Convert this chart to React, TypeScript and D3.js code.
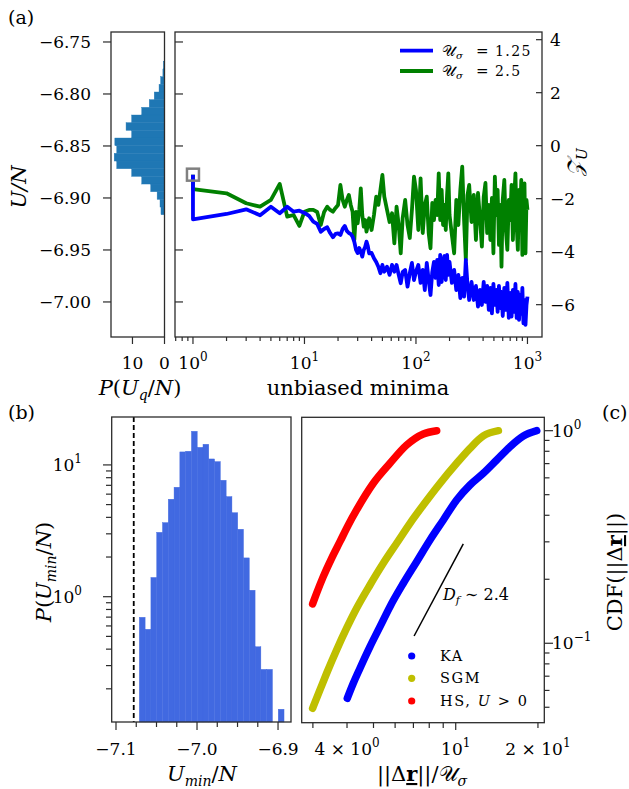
import React from "react";
import * as d3 from "d3";

const FONT = "'DejaVu Serif', 'Liberation Serif', serif";

// ---------- Panel (a): quench histogram P(U_q/N) ----------
const quenchBinTop = -6.7686;
const quenchBinWidth = 0.007375;
const quenchDensity = [0.35, 0.5, 1.2, 1.7, 3.2, 4.75, 7.1, 10.25, 12.0, 10.25, 15.5, 14.9, 15.7, 14.9, 10.25, 7.1, 4.3, 2.3, 1.4, 1.1];

const uTicks = [-6.75, -6.8, -6.85, -6.9, -6.95, -7.0];
const uTickLabels = ["−6.75", "−6.80", "−6.85", "−6.90", "−6.95", "−7.00"];
const histTicks = [10, 0];
const zTicks = [4, 2, 0, -2, -4, -6];
const zTickLabels = ["4", "2", "0", "−2", "−4", "−6"];
const minimaTicks = [1, 10, 100, 1000];
const minimaTickExp = ["0", "1", "2", "3"];
const legendA = ["1.25", "2.5"];

// ---------- Panel (a): running energy vs unbiased minima ----------
const startPoint: [number, number] = [1, -6.8776];
const runSigma125: [number, number][] = [
  [1, -6.8776], [1, -6.9205], [2, -6.9154], [3, -6.9109], [4, -6.9166], [5, -6.9084], [6, -6.9147], [7, -6.9084], [8, -6.9132], [9, -6.9122],
  [10, -6.9144], [11, -6.9173], [12, -6.9228], [13, -6.925], [14, -6.9324], [15, -6.9298], [16, -6.9282], [17, -6.9337], [18, -6.9378], [19, -6.9346],
  [20, -6.934], [21, -6.9356], [22, -6.9298], [23, -6.9269], [24, -6.9317], [25, -6.9337], [26, -6.9346], [27, -6.9372], [28, -6.9423], [29, -6.95],
  [30, -6.9529], [31, -6.9481], [32, -6.9519], [33, -6.9564], [34, -6.95], [35, -6.9471], [36, -6.942], [37, -6.9462], [38, -6.9532], [40, -6.9529],
  [42, -6.958], [44, -6.9615], [46, -6.9661], [48, -6.9724], [50, -6.9644], [52, -6.9709], [55, -6.9661], [58, -6.974], [61, -6.9644], [64, -6.9709],
  [67, -6.9644], [70, -6.974], [73, -6.982], [76, -6.9712], [80, -6.9692], [84, -6.9853], [88, -6.9724], [92, -6.9625], [96, -6.9789], [100, -6.9709],
  [105, -6.9644], [110, -6.9817], [115, -6.9692], [120, -6.9885], [125, -6.9625], [130, -6.9789], [135, -6.9933], [140, -6.9712], [145, -6.9615], [150, -6.9769],
  [155, -6.9596], [160, -6.9837], [165, -6.9548], [170, -6.9808], [175, -6.9615], [180, -6.9558], [185, -6.9789], [190, -6.9548], [195, -6.974], [200, -6.9615],
  [210, -6.9817], [220, -6.9692], [230, -6.9885], [240, -6.974], [250, -6.9962], [260, -6.9769], [270, -6.9949], [280, -6.9596], [290, -6.9837], [300, -6.9981],
  [315, -6.9808], [330, -6.9981], [345, -6.9846], [360, -7.0045], [375, -6.9885], [390, -7.0029], [405, -6.9808], [420, -7.0], [435, -6.9846], [450, -7.0077],
  [465, -6.9865], [480, -7.0109], [495, -6.9827], [510, -7.0029], [525, -6.9885], [540, -7.0096], [555, -6.9846], [570, -7.0058], [585, -6.9904], [600, -7.0135],
  [620, -6.9865], [640, -7.0077], [660, -6.9817], [680, -7.0154], [700, -6.9913], [720, -7.0141], [740, -6.9885], [760, -7.0096], [780, -6.9827], [800, -7.0154],
  [820, -6.9904], [840, -7.0173], [860, -6.9933], [880, -7.0115], [900, -6.9865], [920, -7.0205], [940, -6.9981], [960, -7.0221], [980, -7.0029], [1000, -6.9949],
];
const runSigma25: [number, number][] = [
  [1, -6.8776], [1, -6.8916], [2, -6.8955], [3, -6.9051], [4, -6.9084], [5, -6.9019], [6, -6.8865], [7, -6.918], [8, -6.9164], [9, -6.9269],
  [10, -6.9132], [11, -6.9115], [12, -6.9115], [13, -6.9135], [14, -6.926], [15, -6.9135], [16, -6.9084], [17, -6.9115], [18, -6.9132], [19, -6.9096],
  [20, -6.9067], [21, -6.8875], [22, -6.9019], [23, -6.9084], [24, -6.9019], [25, -6.8971], [26, -6.9067], [27, -6.9132], [28, -6.9404], [29, -6.9135],
  [30, -6.9243], [31, -6.9115], [32, -6.8907], [33, -6.9164], [34, -6.9276], [35, -6.9212], [36, -6.9324], [37, -6.926], [38, -6.9195], [40, -6.9308],
  [42, -6.9164], [44, -6.8988], [46, -6.9067], [48, -6.8923], [50, -6.8779], [52, -6.8988], [55, -6.9115], [58, -6.9231], [61, -6.9147], [64, -6.9436],
  [67, -6.9084], [70, -6.926], [73, -6.9532], [76, -6.9192], [80, -6.9019], [84, -6.926], [88, -6.9385], [92, -6.9115], [96, -6.8795], [100, -6.8923],
  [105, -6.9308], [110, -6.8811], [115, -6.9337], [120, -6.9067], [125, -6.8988], [130, -6.9337], [135, -6.9484], [140, -6.9048], [145, -6.9212], [150, -6.9019],
  [155, -6.9164], [160, -6.8763], [165, -6.9212], [170, -6.8923], [175, -6.926], [180, -6.9067], [185, -6.9308], [190, -6.8971], [195, -6.8763], [200, -6.9164],
  [210, -6.9356], [220, -6.9532], [230, -6.9019], [240, -6.926], [250, -6.8923], [260, -6.8699], [270, -6.9212], [280, -6.9596], [290, -6.8971], [300, -6.8875],
  [315, -6.9231], [330, -6.8971], [345, -6.9404], [360, -6.8952], [375, -6.9192], [390, -6.9468], [405, -6.899], [420, -6.8856], [435, -6.9337], [450, -6.9067],
  [465, -6.9404], [480, -6.9], [495, -6.9532], [510, -6.8795], [525, -6.9164], [540, -6.8923], [555, -6.9452], [570, -6.9067], [585, -6.9661], [600, -6.9019],
  [620, -6.8827], [640, -6.9308], [660, -6.95], [680, -6.9019], [700, -6.9212], [720, -6.8875], [740, -6.9404], [760, -6.9019], [780, -6.8763], [800, -6.926],
  [820, -6.95], [840, -6.8923], [860, -6.9164], [880, -6.8827], [900, -6.9548], [920, -6.8971], [940, -6.8859], [960, -6.9532], [980, -6.9019], [1000, -6.9115],
];

// ---------- Panel (b): P(U_min/N) ----------
const minBinStart = -7.0712;
const minBinWidth = 0.007144;
const minDensity = [0.698, 0.566, 1.4, 3.08, 3.65, 5.49, 6.77, 12.55, 12.7, 18.0, 13.6, 14.35, 11.1, 10.6, 7.65, 5.75, 4.34, 3.25, 1.97, 1.12, 0.417, 0.281, 0.281, 0, 0.14];
const groundStateU = -7.0781;
const bTicks = [-7.1, -7.0, -6.9];
const bTickLabels = ["−7.1", "−7.0", "−6.9"];

// ---------- Panel (c): CDF(||Δr||) ----------
const kaX = [4.009, 4.217, 4.462, 4.855, 5.282, 5.745, 6.43, 7.194, 8.051, 9.01, 10.08, 11.28, 12.62, 14.13, 15.81, 17.69, 19.8];
const kaY = [0.0551, 0.0648, 0.0763, 0.0964, 0.1197, 0.1487, 0.1915, 0.2419, 0.3061, 0.3802, 0.4721, 0.5553, 0.6302, 0.7281, 0.8409, 0.9443, 1.0];
const sgmX = [2.993, 3.184, 3.369, 3.664, 3.987, 4.337, 4.855, 5.43, 6.078, 6.801, 7.61, 8.759, 10.08, 11.28, 12.62, 14.33];
const sgmY = [0.04945, 0.06031, 0.07227, 0.093, 0.1177, 0.1461, 0.188, 0.2378, 0.2954, 0.3668, 0.4472, 0.5656, 0.7024, 0.826, 0.9443, 1.0];
const hsX = [2.993, 3.095, 3.274, 3.513, 3.769, 4.044, 4.337, 4.993, 5.745, 6.613, 7.61, 8.517];
const hsY = [0.1531, 0.1718, 0.2058, 0.2511, 0.3005, 0.3601, 0.4236, 0.5656, 0.7024, 0.8563, 0.965, 1.0];
const slopeX = [7.04, 10.66];
const slopeY = [0.1082, 0.2937];

const superTicks = (k: number) => [2, 3, 4, 5, 6, 7, 8, 9].map((m) => m * Math.pow(10, k));

function Pow10({ x, y, exp, anchor = "middle", prefix = "" }: any) {
  return (
    <text x={x} y={y} textAnchor={anchor} fontFamily={FONT} fontSize={17} fill="#000">
      {prefix}10<tspan dy={-8} fontSize={12}>{exp}</tspan>
    </text>
  );
}

export default function App() {
  // ----- scales -----
  const yU = d3.scaleLinear().domain([-6.7404, -7.0337]).range([32, 337]);
  const xHist = d3.scaleLinear().domain([16.7, 0]).range([111, 164.5]);
  const xMin = d3.scaleLog().domain([0.69, 1350]).range([175, 542]);
  const yZ = d3.scaleLinear().domain([4.29, -7.22]).range([32, 337]);

  const xB = d3.scaleLinear().domain([-7.1053, -6.884]).range([111.7, 291]);
  const yB = d3.scaleLog().domain([23.1, 0.112]).range([417, 722]);

  const xC = d3.scaleLog().domain([2.73, 21.1]).range([301.7, 544.3]);
  const yC = d3.scaleLog().domain([1.156, 0.0423]).range([417.3, 722.7]);

  const runLine = d3.line<[number, number]>().x((d) => xMin(d[0])).y((d) => yU(d[1]));

  const cdfLine = d3.line<[number, number]>().x((d) => xC(d[0])).y((d) => yC(d[1])).curve(d3.curveMonotoneX);
  const zipXY = (xs: number[], ys: number[]) => xs.map((v, i) => [v, ys[i]] as [number, number]);

  const frame = { fill: "none", stroke: "#2b2b2b", strokeWidth: 1.3 };
  const tickStroke = { stroke: "#2b2b2b", strokeWidth: 1.2 };

  const mainMinor = [0.7, 0.8, 0.9, ...superTicks(0), ...superTicks(1), ...superTicks(2)];
  const bMinor = d3.range(0, 9).map((i) => -7.1 + i * 0.025).filter((v) => !bTicks.some((t) => Math.abs(t - v) < 1e-6));
  const bYMinor = [0.2, 0.3, 0.4, 0.5, 0.6, 0.7, 0.8, 0.9, ...superTicks(0)];
  const cYMinor = [0.05, 0.06, 0.07, 0.08, 0.09, 0.2, 0.3, 0.4, 0.5, 0.6, 0.7, 0.8, 0.9];
  const cXMinor = [3, 4, 5, 6, 7, 8, 9, 20];

  return (
    <svg width={629} height={789} style={{ position: "absolute", left: 0, top: 0, background: "#fff" }} fontFamily={FONT}>
      {/* ===================== Panel (a) ===================== */}
      <text x={8} y={24} fontSize={19}>(a)</text>

      {/* histogram of quench energies */}
      {quenchDensity.map((v, i) => {
        const yTop = yU(quenchBinTop - i * quenchBinWidth);
        const yBot = yU(quenchBinTop - (i + 1) * quenchBinWidth);
        return <rect key={"qa" + i} x={xHist(v)} y={yTop} width={xHist(0) - xHist(v)} height={yBot - yTop} fill="#1f77b4" stroke="#1f77b4" strokeWidth={0.4} />;
      })}
      <rect x={111} y={32} width={164.5 - 111} height={305} {...frame} />
      {uTicks.map((t, i) => (
        <g key={"ut" + i}>
          <line x1={103} x2={111} y1={yU(t)} y2={yU(t)} {...tickStroke} />
          <text x={91} y={yU(t) + 6} textAnchor="end" fontSize={17}>{uTickLabels[i]}</text>
        </g>
      ))}
      {histTicks.map((t) => (
        <g key={"ht" + t}>
          <line x1={xHist(t)} x2={xHist(t)} y1={337} y2={344} {...tickStroke} />
          <text x={xHist(t)} y={369} textAnchor="middle" fontSize={17}>{t}</text>
        </g>
      ))}
      <text transform="translate(26,187) rotate(-90)" textAnchor="middle" fontSize={21} fontStyle="italic">U/N</text>
      <text x={140} y={395} textAnchor="middle" fontSize={21}>
        <tspan fontStyle="italic">P</tspan>(<tspan fontStyle="italic">U</tspan>
        <tspan dy={5} fontSize={14} fontStyle="italic">q</tspan>
        <tspan dy={-5}>/</tspan><tspan fontStyle="italic">N</tspan>)
      </text>

      {/* running minima panel */}
      <path d={runLine(runSigma25) || ""} fill="none" stroke="#008000" strokeWidth={3.8} strokeLinejoin="round" />
      <path d={runLine(runSigma125) || ""} fill="none" stroke="#0000ff" strokeWidth={3.8} strokeLinejoin="round" />
      <rect x={xMin(startPoint[0]) - 6} y={yU(startPoint[1]) - 6} width={12} height={12} fill="none" stroke="#808080" strokeWidth={2.5} />
      <rect x={175} y={32} width={542 - 175} height={305} {...frame} />
      {uTicks.map((t, i) => (
        <line key={"ui" + i} x1={175} x2={183} y1={yU(t)} y2={yU(t)} {...tickStroke} />
      ))}
      {zTicks.map((t, i) => (
        <g key={"zt" + i}>
          <line x1={536} x2={542} y1={yZ(t)} y2={yZ(t)} {...tickStroke} />
          <text x={550} y={yZ(t) + 6} fontSize={17}>{zTickLabels[i]}</text>
        </g>
      ))}
      {minimaTicks.map((t, i) => (
        <g key={"mt" + i}>
          <line x1={xMin(t)} x2={xMin(t)} y1={337} y2={344} {...tickStroke} />
          <Pow10 x={xMin(t)} y={369} exp={minimaTickExp[i]} />
        </g>
      ))}
      {mainMinor.map((t, i) => (
        <line key={"mm" + i} x1={xMin(t)} x2={xMin(t)} y1={337} y2={341} {...tickStroke} />
      ))}
      <text x={358} y={395} textAnchor="middle" fontSize={21}>unbiased minima</text>
      <text transform="translate(582,162) rotate(-90)" textAnchor="middle" fontSize={21}>
        <tspan fontStyle="italic">𝒵</tspan><tspan dy={5} fontSize={14} fontStyle="italic">U</tspan>
      </text>
      {/* legend (a) */}
      {legendA.map((lab, i) => (
        <g key={"la" + i}>
          <line x1={400} x2={433} y1={50.7 + i * 20.3} y2={50.7 + i * 20.3} stroke={i === 0 ? "#0000ff" : "#008000"} strokeWidth={3.8} />
          <text x={442} y={56 + i * 20.3} fontSize={15}>
            𝒰<tspan dy={3} fontSize={10} fontStyle="italic">σ</tspan>
          </text>
          <text x={476} y={56 + i * 20.3} fontSize={15}>=</text>
          <text x={495} y={56 + i * 20.3} fontSize={14} letterSpacing={1.4}>{lab}</text>
        </g>
      ))}

      {/* ===================== Panel (b) ===================== */}
      <text x={8} y={419} fontSize={19}>(b)</text>
      {minDensity.map((v, i) =>
        v > 0 ? (
          <rect key={"mb" + i} x={xB(minBinStart + i * minBinWidth)} y={yB(v)}
            width={xB(minBinStart + (i + 1) * minBinWidth) - xB(minBinStart + i * minBinWidth)}
            height={722 - yB(v)} fill="#4169e1" stroke="#4169e1" strokeWidth={0.4} />
        ) : null
      )}
      <line x1={xB(groundStateU)} x2={xB(groundStateU)} y1={417} y2={722} stroke="#000" strokeWidth={1.8} strokeDasharray="5,3" />
      <rect x={111.7} y={417} width={291 - 111.7} height={305} {...frame} />
      {[10, 1].map((t, i) => (
        <g key={"by" + t}>
          <line x1={103} x2={111.7} y1={yB(t)} y2={yB(t)} {...tickStroke} />
          <Pow10 x={82} y={yB(t) + 6} exp={i === 0 ? "1" : "0"} anchor="end" />
        </g>
      ))}
      {bYMinor.filter((t) => yB(t) >= 417 && yB(t) <= 722).map((t, i) => (
        <line key={"bym" + i} x1={106} x2={111.7} y1={yB(t)} y2={yB(t)} {...tickStroke} />
      ))}
      {bTicks.map((t, i) => (
        <g key={"bx" + i}>
          <line x1={xB(t)} x2={xB(t)} y1={722} y2={730} {...tickStroke} />
          <text x={xB(t)} y={755} textAnchor="middle" fontSize={17}>{bTickLabels[i]}</text>
        </g>
      ))}
      {bMinor.map((t, i) => (
        <line key={"bxm" + i} x1={xB(t)} x2={xB(t)} y1={722} y2={727} {...tickStroke} />
      ))}
      <text transform="translate(51,572) rotate(-90)" textAnchor="middle" fontSize={21}>
        <tspan fontStyle="italic">P</tspan>(<tspan fontStyle="italic">U</tspan>
        <tspan dy={5} fontSize={14} fontStyle="italic">min</tspan>
        <tspan dy={-5}>/</tspan><tspan fontStyle="italic">N</tspan>)
      </text>
      <text x={202} y={781} textAnchor="middle" fontSize={21}>
        <tspan fontStyle="italic">U</tspan>
        <tspan dy={5} fontSize={14} fontStyle="italic">min</tspan>
        <tspan dy={-5}>/</tspan><tspan fontStyle="italic">N</tspan>
      </text>

      {/* ===================== Panel (c) ===================== */}
      <text x={602} y={419} fontSize={19}>(c)</text>
      {[
        { xs: kaX, ys: kaY, c: "#0000ff" },
        { xs: sgmX, ys: sgmY, c: "#bfbf00" },
        { xs: hsX, ys: hsY, c: "#ff0000" },
      ].map((s, i) => (
        <path key={"cdf" + i} d={cdfLine(zipXY(s.xs, s.ys)) || ""} fill="none" stroke={s.c} strokeWidth={7.5} strokeLinecap="round" strokeLinejoin="round" />
      ))}
      <line x1={xC(slopeX[0])} y1={yC(slopeY[0])} x2={xC(slopeX[1])} y2={yC(slopeY[1])} stroke="#000" strokeWidth={1.5} />
      <text x={443} y={600} fontSize={16}>
        <tspan fontStyle="italic">D</tspan><tspan dy={4} fontSize={11} fontStyle="italic">f</tspan><tspan dy={-4}> ∼ 2.4</tspan>
      </text>
      {[
        { c: "#0000ff", label: "KA", y: 656 },
        { c: "#bfbf00", label: "SGM", y: 678.3 },
        { c: "#ff0000", label: "HS", y: 701 },
      ].map((l, i) => (
        <g key={"lg" + i}>
          <circle cx={411.7} cy={l.y} r={3.6} fill={l.c} />
          <text x={440} y={l.y + 5} fontSize={14.5} letterSpacing={1.6}>
            {l.label}
            {i === 2 ? (<>, <tspan fontStyle="italic">U</tspan> &gt; 0</>) : null}
          </text>
        </g>
      ))}
      <rect x={301.7} y={417.3} width={544.3 - 301.7} height={722.7 - 417.3} {...frame} />
      {[1, 0.1].map((t, i) => (
        <g key={"cy" + i}>
          <line x1={544.3} x2={553} y1={yC(t)} y2={yC(t)} {...tickStroke} />
          <Pow10 x={552} y={yC(t) + 6} exp={i === 0 ? "0" : "−1"} anchor="start" />
        </g>
      ))}
      {cYMinor.map((t, i) => (
        <line key={"cym" + i} x1={544.3} x2={549.5} y1={yC(t)} y2={yC(t)} {...tickStroke} />
      ))}
      <line x1={xC(10)} x2={xC(10)} y1={722.7} y2={730} {...tickStroke} />
      {cXMinor.map((t, i) => (
        <line key={"cxm" + i} x1={xC(t)} x2={xC(t)} y1={722.7} y2={728} {...tickStroke} />
      ))}
      <Pow10 x={xC(4)} y={755} exp="0" prefix="4 × " />
      <Pow10 x={xC(10)} y={755} exp="1" />
      <Pow10 x={xC(20)} y={755} exp="1" prefix="2 × " />
      <text x={422} y={781} textAnchor="middle" fontSize={21}>
        ||Δ<tspan fontWeight="bold" textDecoration="underline">r</tspan>||/𝒰<tspan dy={5} fontSize={14} fontStyle="italic">σ</tspan>
      </text>
      <text transform="translate(622,572) rotate(-90)" textAnchor="middle" fontSize={21}>
        CDF(||Δ<tspan fontWeight="bold" textDecoration="underline">r</tspan>||)
      </text>
    </svg>
  );
}
